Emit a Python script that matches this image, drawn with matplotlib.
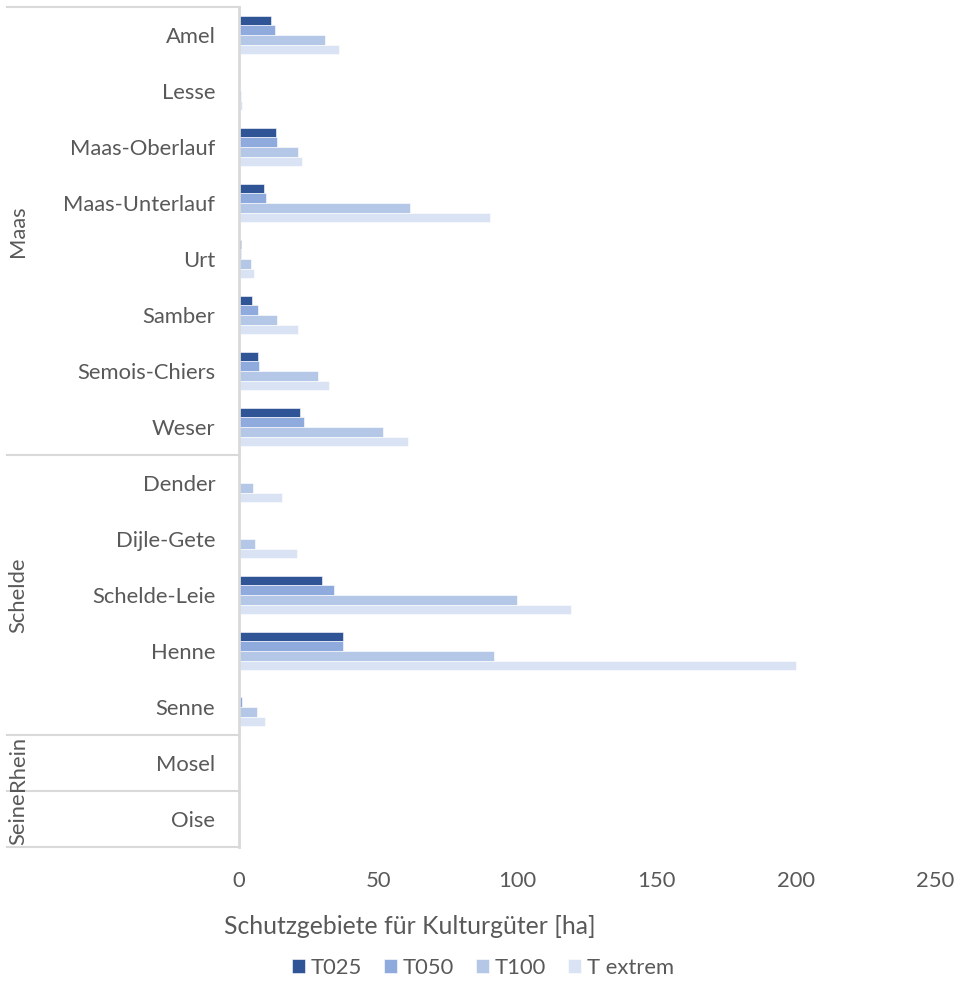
import numpy as np
import matplotlib
matplotlib.use("Agg")
import matplotlib.pyplot as plt
from matplotlib.lines import Line2D
from matplotlib.transforms import blended_transform_factory

plt.rcParams['font.family'] = ['Lato', 'DejaVu Sans']

categories = ["Amel", "Lesse", "Maas-Oberlauf", "Maas-Unterlauf", "Urt", "Samber",
              "Semois-Chiers", "Weser", "Dender", "Dijle-Gete", "Schelde-Leie",
              "Henne", "Senne", "Mosel", "Oise"]
groups = ["Maas", "Schelde", "Rhein", "Seine"]
group_sizes = [8, 5, 1, 1]

series_names = ["T025", "T050", "T100", "T extrem"]
t025 = [11.4, 0.0, 13.2, 8.9, 0.8, 4.7, 6.7, 22.0, 0.0, 0.0, 29.8, 37.3, 0.0, 0.0, 0.0]
t050 = [13.0, 0.0, 13.8, 9.8, 0.7, 6.8, 7.2, 23.5, 0.0, 0.0, 34.1, 37.4, 1.0, 0.0, 0.0]
t100 = [30.8, 0.7, 21.1, 61.5, 4.3, 13.8, 28.5, 51.6, 5.2, 5.7, 99.9, 91.6, 6.5, 0.0, 0.0]
t_extrem = [35.9, 1.2, 22.5, 90.1, 5.3, 21.1, 32.2, 60.6, 15.6, 20.9, 119.1, 200.0, 9.4, 0.0, 0.0]

colors = ["#2F5597", "#8FAADC", "#B4C7E7", "#DAE3F3"]
text_color = "#595959"
line_color = "#D9D9D9"
fs = 15.8

W, H = 956, 985
fig = plt.figure(figsize=(W / 100, H / 100), dpi=100)
ax = fig.add_axes([239 / W, 1 - 847 / H, (935 - 239) / W, (847 - 7) / H])

y = np.arange(len(categories))
bh = 0.17
for i, (vals, name) in enumerate(zip([t025, t050, t100, t_extrem], series_names)):
    ax.barh(y + (i - 1.5) * bh, vals, height=bh, color=colors[i], label=name,
            edgecolor="white", linewidth=0.4)

ax.set_xlim(0, 250)
ax.set_ylim(len(categories) - 0.5, -0.5)
ax.set_xticks(np.arange(0, 251, 50))
ax.set_yticks(y)
ax.set_yticklabels(categories)
ax.tick_params(axis='y', length=0, pad=17, labelsize=fs, labelcolor=text_color)
ax.tick_params(axis='x', length=0, pad=17, labelsize=fs, labelcolor=text_color)
for s in ["top", "right", "bottom"]:
    ax.spines[s].set_visible(False)
ax.spines["left"].set_color(line_color)
ax.spines["left"].set_linewidth(2)

# category group separators on the left
tr = blended_transform_factory(fig.transFigure, ax.transData)
bounds = [-0.5]
for s in group_sizes:
    bounds.append(bounds[-1] + s)
for b in bounds:
    fig.add_artist(Line2D([7 / W, 239 / W], [b, b], transform=tr, color=line_color,
                          linewidth=1.5, clip_on=False))
for g, lo, hi in zip(groups, bounds[:-1], bounds[1:]):
    fig.text(18 / W, (lo + hi) / 2, g, transform=tr, rotation=90, ha="center",
             va="center", fontsize=fs, color=text_color)

fig.text(410 / W, 1 - 927 / H, "Schutzgebiete für Kulturgüter [ha]", ha="center",
         va="center", fontsize=17.8, color=text_color)

leg = fig.legend(loc="center", bbox_to_anchor=(483 / W, 1 - 968 / H), ncol=4,
                 frameon=False, fontsize=fs, handlelength=0.6, handleheight=0.6,
                 handletextpad=0.25, columnspacing=1.0)
for t in leg.get_texts():
    t.set_color(text_color)

fig.savefig("out.png", dpi=100, facecolor="white")
